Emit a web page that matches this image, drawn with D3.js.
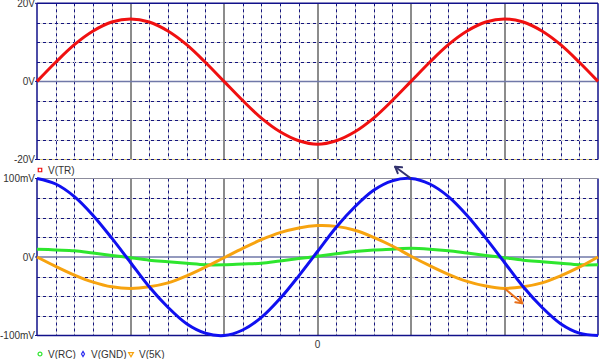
<!DOCTYPE html>
<html>
<head>
<meta charset="utf-8">
<script src="https://cdn.jsdelivr.net/npm/d3@7"></script>
<style>
  body { margin: 0; background: #fff; }
  svg { display: block; font-family: Arial, "Liberation Sans", sans-serif; }
</style>
</head>
<body>
<div id="chart"></div>
<script>
// sample times (one per minor grid division)
var times = [-3, -2.8, -2.6, -2.4, -2.2, -2, -1.8, -1.6, -1.4, -1.2, -1, -0.8, -0.6, -0.4, -0.2, 0,
             0.2, 0.4, 0.6, 0.8, 1, 1.2, 1.4, 1.6, 1.8, 2, 2.2, 2.4, 2.6, 2.8, 3];

// top pane, volts
var vTR = [0, 4.9, 9.4, 12.9, 15.2, 16.0, 15.2, 12.9, 9.4, 4.9, 0, -4.9, -9.4, -12.9, -15.2, -16.1,
           -15.2, -12.9, -9.4, -4.9, 0, 4.9, 9.4, 12.9, 15.2, 16.0, 15.2, 12.9, 9.4, 4.9, 0];

// bottom pane, millivolts
var vRC = [10, 9, 8, 5, 2, -1, -4, -6, -8, -10, -10, -9, -8, -5, -2, 1,
           4, 7, 9, 10, 11, 10, 8, 5, 2, -1, -4, -6, -8, -10, -10];
var vGND = [100, 93, 77, 53, 24, -7, -38, -64, -85, -97, -100, -93, -77, -53, -24, 7,
            38, 64, 85, 97, 100, 93, 77, 53, 24, -7, -38, -64, -85, -97, -100];
var v5K = [0, -12, -23, -32, -38, -40, -38, -33, -24, -13, -1, 11, 22, 31, 37, 40,
           39, 34, 25, 14, 1, -11, -22, -31, -37, -40, -38, -33, -24, -13, 0];

var topTicks = [20, 0, -20];
var topTickLabels = ["20V", "0V", "-20V"];
var botTicks = [100, 0, -100];
var botTickLabels = ["100mV", "0V", "-100mV"];
var xTicks = [0];
var xTickLabels = ["0"];

// annotation arrows [t, value] in bottom pane units
var arrows = [
  {from: [1, 100], to: [0.83, 115], color: "#33336e"},
  {from: [2, -40], to: [2.19, -59], color: "#e8701a"}
];

var W = 600, H = 359;
var svg = d3.select("#chart").append("svg").attr("width", W).attr("height", H);

var x = d3.scaleLinear().domain([-3, 3]).range([37, 598]);
var yTop = d3.scaleLinear().domain([-20, 20]).range([159.5, 3.3]);
var yBot = d3.scaleLinear().domain([-100, 100]).range([335.5, 178.5]);

var minorX = d3.range(0, 31).map(function(i) { return -3 + i * 0.2; });
var majorX = [-2, -1, 0, 1, 2];

function drawPane(y, yMin, yMax, step) {
  var g = svg.append("g");
  var hs = d3.range(yMin, yMax + step / 2, step);

  // horizontal grid
  hs.forEach(function(v) {
    if (v === 0 || v === yMax || v === yMin) return;
    var py = Math.round(y(v)) + 0.5;
    g.append("line").attr("x1", x(-3)).attr("x2", x(3)).attr("y1", py).attr("y2", py)
      .attr("stroke", "#d8d8d8").attr("stroke-width", 1);
    g.append("line").attr("x1", x(-3)).attr("x2", x(3)).attr("y1", py).attr("y2", py)
      .attr("stroke", "#14147e").attr("stroke-width", 1).attr("stroke-dasharray", "3,3");
  });

  // vertical minor grid
  minorX.forEach(function(t) {
    var px = Math.round(x(t)) + 0.5;
    if (Math.abs(t - Math.round(t)) < 1e-6) return;
    g.append("line").attr("x1", px).attr("x2", px).attr("y1", y(yMax)).attr("y2", y(yMin))
      .attr("stroke", "#d8d8d8");
    g.append("line").attr("x1", px).attr("x2", px).attr("y1", y(yMax)).attr("y2", y(yMin))
      .attr("stroke", "#14147e").attr("stroke-dasharray", "3,3");
  });

  // vertical major lines
  majorX.forEach(function(t) {
    var px = Math.round(x(t));
    g.append("line").attr("x1", px).attr("x2", px).attr("y1", y(yMax)).attr("y2", y(yMin))
      .attr("stroke", "#8c8c8c").attr("stroke-width", 2);
  });

  // zero line
  g.append("line").attr("x1", x(-3)).attr("x2", x(3)).attr("y1", y(0)).attr("y2", y(0))
    .attr("stroke", "#7078a8").attr("stroke-width", 1.5);

  // frame sides
  g.append("line").attr("x1", x(-3)).attr("x2", x(-3)).attr("y1", y(yMax)).attr("y2", y(yMin))
    .attr("stroke", "#10108a").attr("stroke-width", 1.5);
  g.append("line").attr("x1", x(3)).attr("x2", x(3)).attr("y1", y(yMax)).attr("y2", y(yMin))
    .attr("stroke", "#10108a").attr("stroke-width", 1.5);
  return g;
}

drawPane(yTop, -20, 20, 5);
drawPane(yBot, -100, 100, 25);

// frame top / bottom edges
svg.append("line").attr("x1", x(-3)).attr("x2", x(3)).attr("y1", yTop(20)).attr("y2", yTop(20))
  .attr("stroke", "#10108a").attr("stroke-width", 1.5);
svg.append("line").attr("x1", x(-3)).attr("x2", x(3)).attr("y1", yTop(-20)).attr("y2", yTop(-20))
  .attr("stroke", "#d8c878").attr("stroke-width", 1);
svg.append("line").attr("x1", x(-3)).attr("x2", x(3)).attr("y1", yTop(-20)).attr("y2", yTop(-20))
  .attr("stroke", "#14147e").attr("stroke-dasharray", "3,3");
svg.append("line").attr("x1", x(-3)).attr("x2", x(3)).attr("y1", yBot(-100)).attr("y2", yBot(-100))
  .attr("stroke", "#10108a").attr("stroke-width", 1.5);
svg.append("line").attr("x1", x(-3)).attr("x2", x(3)).attr("y1", yBot(100)).attr("y2", yBot(100))
  .attr("stroke", "#8c8c9c").attr("stroke-width", 1);

// y tick labels
function yLabels(y, ticks, labels) {
  ticks.forEach(function(v, i) {
    svg.append("line").attr("x1", x(-3) - 2).attr("x2", x(-3)).attr("y1", y(v)).attr("y2", y(v))
      .attr("stroke", "#10108a");
    svg.append("text").attr("x", x(-3) - 2).attr("y", y(v)).attr("dy", "0.35em")
      .attr("text-anchor", "end").attr("font-size", 10).attr("fill", "#333")
      .text(labels[i]);
  });
}
yLabels(yTop, topTicks, topTickLabels);
yLabels(yBot, botTicks, botTickLabels);

xTicks.forEach(function(t, i) {
  svg.append("text").attr("x", x(t)).attr("y", 347.5).attr("text-anchor", "middle")
    .attr("font-size", 10).attr("fill", "#333").text(xTickLabels[i]);
});

// traces
function trace(y, vals, color) {
  var line = d3.line()
    .x(function(d, i) { return x(times[i]); })
    .y(function(d) { return y(d); })
    .curve(d3.curveCatmullRom);
  svg.append("path").datum(vals).attr("d", line)
    .attr("fill", "none").attr("stroke", color).attr("stroke-width", 3)
    .attr("stroke-linejoin", "round");
}

trace(yTop, vTR, "#f01010");
trace(yBot, vRC, "#2ee62e");
trace(yBot, v5K, "#f7a30f");
trace(yBot, vGND, "#1010f0");

// arrows
arrows.forEach(function(a) {
  var x1 = x(a.from[0]), y1 = yBot(a.from[1]), x2 = x(a.to[0]), y2 = yBot(a.to[1]);
  var ang = Math.atan2(y2 - y1, x2 - x1);
  svg.append("line").attr("x1", x1).attr("y1", y1).attr("x2", x2).attr("y2", y2)
    .attr("stroke", a.color).attr("stroke-width", 2);
  [-0.55, 0.55].forEach(function(s) {
    svg.append("line").attr("x1", x2).attr("y1", y2)
      .attr("x2", x2 - 7 * Math.cos(ang + s)).attr("y2", y2 - 7 * Math.sin(ang + s))
      .attr("stroke", a.color).attr("stroke-width", 2).attr("stroke-linecap", "round");
  });
});

// legends
var legTop = [{name: "V(TR)", color: "#f01010", shape: "square"}];
var legBot = [
  {name: "V(RC)", color: "#2ee62e", shape: "circle"},
  {name: "V(GND)", color: "#3030f0", shape: "diamond"},
  {name: "V(5K)", color: "#f7a30f", shape: "tri"}
];

function legend(items, y0, xs) {
  items.forEach(function(d, i) {
    var lx = xs[i];
    var sym;
    if (d.shape === "square") sym = d3.symbol(d3.symbolSquare, 12);
    else if (d.shape === "circle") sym = d3.symbol(d3.symbolCircle, 12);
    else if (d.shape === "diamond") sym = d3.symbol(d3.symbolDiamond, 8);
    else sym = d3.symbol(d3.symbolTriangle, 10);
    svg.append("path").attr("d", sym)
      .attr("transform", "translate(" + lx + "," + y0 + ")" + (d.shape === "tri" ? " rotate(180)" : ""))
      .attr("fill", "none").attr("stroke", d.color).attr("stroke-width", 1.2);
    svg.append("text").attr("x", lx + 8).attr("y", y0).attr("dy", "0.35em")
      .attr("font-size", 10).attr("fill", "#333").text(d.name);
  });
}
legend(legTop, 170, [40]);
legend(legBot, 354, [40, 83, 131]);
</script>
</body>
</html>
